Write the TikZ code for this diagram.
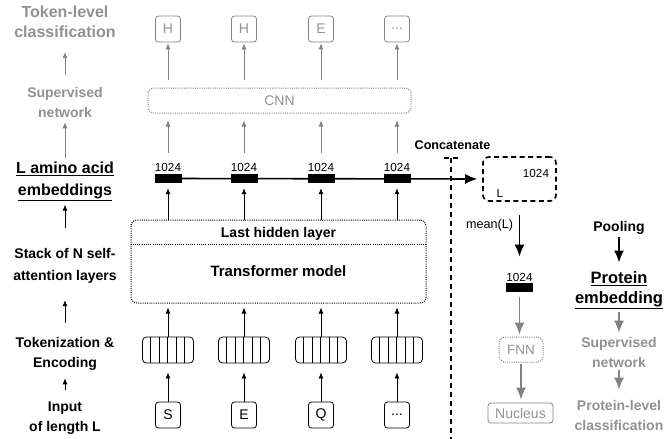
\documentclass[tikz,border=0pt]{standalone}
\usepackage{fontspec}
\setmainfont{Liberation Sans}
\usetikzlibrary{arrows.meta}

\definecolor{greytext}{RGB}{145,145,145}
\definecolor{greyline}{RGB}{130,130,130}

\newcommand{\fsz}[2]{\fontsize{#1}{#2}\selectfont}
\newcommand{\tdots}{...}

\tikzset{
  lbl/.style={align=center,inner sep=0pt,font=\bfseries\fsz{14}{20}},
  greylbl/.style={lbl,text=greytext},
  arr/.style={-{Latex[length=6pt,width=5pt]},line width=0.8pt},
  greyarr/.style={arr,draw=greyline},
  bigarr/.style={-{Latex[length=12pt,width=10pt]},line width=1.6pt},
  greybig/.style={bigarr,draw=greyline},
  tokbox/.style={draw,rounded corners=3pt,minimum width=25pt,minimum height=26pt,inner sep=0pt,font=\fsz{14}{16},line width=0.8pt},
  encbox/.style={draw,rounded corners=4pt,minimum width=51pt,minimum height=26pt,inner sep=0pt,line width=0.8pt},
  embbar/.style={fill=black,minimum width=27pt,minimum height=9pt,inner sep=0pt},
  dotbox/.style={draw,rounded corners=6pt,dash pattern=on 1pt off 1.2pt,line width=1pt,inner sep=0pt},
  num/.style={font=\fsz{11.7}{14},inner sep=0pt,anchor=base},
}

\begin{document}
\begin{tikzpicture}[x=1pt,y=-1pt]
\useasboundingbox (0,0) rectangle (665,439);

% left column
\node[greylbl,font=\bfseries\fsz{16}{20}] (tokcls) at (65,22) {Token-level\\classification};
\node[greylbl] (supnet) at (65,102) {Supervised\\network};
\node[lbl,font=\bfseries\fsz{16}{22}] (aaemb) at (65,181.5) {\underline{L amino acid}\\\underline{embeddings}};
\node[lbl,font=\bfseries\fsz{14}{22}] (stack) at (65,265.5) {Stack of N self-\\attention layers};
\node[lbl] (tokenc) at (65,353.5) {Tokenization \&\\Encoding};
\node[lbl] (input) at (65,418.5) {Input\\of length L};

\draw[greyarr,shorten <=12pt,shorten >=14pt] (supnet.north) -- (tokcls.south);
\draw[greyarr,shorten <=4pt,shorten >=5pt] (aaemb.north) -- (supnet.south);
\draw[arr,shorten <=20pt,shorten >=3.5pt] (stack.north) -- (aaemb.south);
\draw[arr,shorten <=14pt,shorten >=17pt] (tokenc.north) -- (stack.south);
\draw[arr,shorten <=12pt,shorten >=8pt] (input.north) -- (tokenc.south);

% model
\node[dotbox,draw=greyline,minimum width=263pt,minimum height=25pt,text=greytext,font=\fsz{14}{16}] (cnn) at (279.5,100.5) {CNN};
\node[dotbox,minimum width=295pt,minimum height=83pt] (tf) at (278.5,261.5) {};
\coordinate (hl) at (0,244);
\draw[dash pattern=on 1pt off 1.2pt,line width=1pt] (tf.west |- hl) -- (tf.east |- hl);
\node[lbl] (lasthid) at (278.5,234) {Last hidden layer};
\node[lbl,font=\bfseries\fsz{15}{18}] (tfm) at (278.5,271) {Transformer model};

\foreach \x/\i/\outl/\inl in {168/1/H/S,244/2/H/E,321/3/E/Q,397/4/\tdots/\tdots} {
  \node[tokbox,draw=greyline,text=greytext] (o\i) at (\x,29) {\outl};
  \node[embbar] (b\i) at (\x,178.5) {};
  \node[num] (d\i) at (\x,171) {1024};
  \node[encbox] (e\i) at (\x,350) {};
  \foreach \k in {1,...,5}
    \draw[line width=0.8pt] ([xshift=\k*8.5pt]e\i.north west) -- ([xshift=\k*8.5pt]e\i.south west);
  \node[tokbox] (t\i) at (\x,415) {\inl};
  \draw[arr,shorten >=9pt] (t\i.north) -- (e\i.south);
  \draw[arr,shorten >=4pt] (e\i.north) -- (e\i.north |- tf.south);
  \draw[arr,shorten >=5pt] (b\i.south |- tf.north) -- (b\i.south);
  \draw[greyarr,shorten <=9.6pt,shorten >=7pt] (d\i.north) -- (d\i.north |- cnn.south);
  \draw[greyarr,shorten <=8pt,shorten >=1pt] (o\i.south |- cnn.north) -- (o\i.south);
}

% concatenation and pooling
\node[draw,rounded corners=6pt,minimum width=73pt,minimum height=44pt,line width=1.6pt,dash pattern=on 5pt off 3.5pt] (cat) at (519.5,179) {};
\node[num] (catd) at (536,177) {1024};
\node[num] (catl) at (500,197) {L};
\draw[bigarr,shorten >=5pt] (b1.center) -- (cat.west);
\node[lbl,font=\bfseries\fsz{12.6}{15}] (concat) at (452.5,145) {Concatenate};
\draw[line width=1.6pt,dash pattern=on 5pt off 4pt] (451,158) -- (451,439);
\draw[line width=1.6pt,dash pattern=on 5pt off 4pt] (444,158) -- (459,158);

\node[font=\fsz{12.6}{15},inner sep=0pt] (mean) at (489.5,225) {mean(L)};
\node[num] (pd) at (519.5,281) {1024};
\node[embbar] (pb) at (519.5,287.5) {};
\draw[bigarr,shorten <=13pt,shorten >=16pt] (cat.south) -- (pd.north);
\node[dotbox,draw=greyline,text=greytext,font=\fsz{13.4}{16},minimum width=44pt,minimum height=25pt] (fnn) at (521,349.5) {FNN};
\node[tokbox,draw=greyline,text=greytext,minimum width=65pt,minimum height=20pt] (nuc) at (520.5,413) {Nucleus};
\draw[greybig,shorten <=5pt,shorten >=2pt] (pb.south) -- (pb.south |- fnn.north);
\draw[greybig,shorten <=1pt,shorten >=3pt] (fnn.south) -- (fnn.south |- nuc.north);

% right column
\node[lbl] (pool) at (619,227.5) {Pooling};
\node[lbl,font=\bfseries\fsz{16.5}{20}] (protemb) at (619,290.5) {\underline{Protein}\\\underline{embedding}};
\node[greylbl] (supnet2) at (619,352) {Supervised\\network};
\node[greylbl] (protcls) at (619,415) {Protein-level\\classification};
\draw[bigarr,shorten <=3pt,shorten >=9pt] (pool.south) -- (protemb.north);
\draw[greybig,shorten <=3pt,shorten >=4pt] (protemb.south) -- (supnet2.north);
\draw[greybig,shorten <=3pt,shorten >=10pt] (supnet2.south) -- (protcls.north);
%\draw (0,0) rectangle (665,439);

\end{tikzpicture}
\end{document}
